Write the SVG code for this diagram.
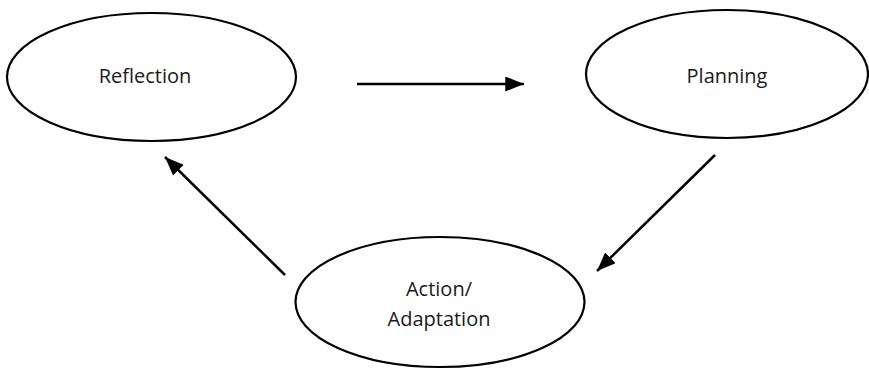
<svg xmlns="http://www.w3.org/2000/svg" width="869" height="370" viewBox="0 0 869 370">
<style>
.node ellipse{fill:#fff;stroke:#000;stroke-width:2.2}
.node text{font-family:"Open Sans","Noto Sans",sans-serif;font-size:20px;fill:#1a1a1a;text-anchor:middle}
.edge{stroke:#000;stroke-width:2.5;fill:none;marker-end:url(#ah)}
</style>
<defs>
<marker id="ah" markerWidth="8" markerHeight="6" refX="7.5" refY="3" orient="auto" markerUnits="strokeWidth">
<path d="M0,0 L7.5,3 L0,6 Z" fill="#000"/>
</marker>
</defs>
<rect width="869" height="370" fill="#fff"/>
<g id="reflection" class="node">
<ellipse cx="151.5" cy="77" rx="144.5" ry="64"/>
<text x="145" y="83">Reflection</text>
</g>
<g id="planning" class="node">
<ellipse cx="727" cy="74" rx="141" ry="64"/>
<text x="727" y="83">Planning</text>
</g>
<g id="action" class="node">
<ellipse cx="440" cy="302" rx="144.5" ry="65"/>
<text x="439" y="296">Action/</text>
<text x="439" y="326">Adaptation</text>
</g>
<g id="connectors">
<line class="edge" x1="357" y1="84" x2="524" y2="84"/>
<line class="edge" x1="715" y1="155" x2="597" y2="271"/>
<line class="edge" x1="285" y1="275" x2="165" y2="157"/>
</g>
</svg>
